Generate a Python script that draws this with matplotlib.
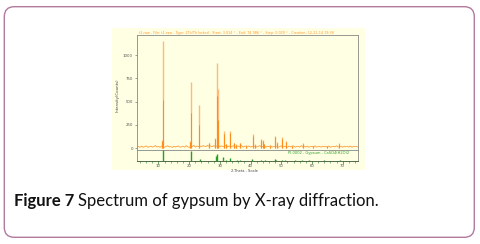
import matplotlib
matplotlib.use('Agg')
import matplotlib.pyplot as plt
from matplotlib.patches import FancyBboxPatch, Rectangle
import numpy as np

# ---- data ----
# baseline counts every 0.5 deg from 3 to 75 (hand read, approx)
base_x = np.arange(3.0, 75.01, 0.5)
base_y = [12, 18, 8, 22, 10, 15, 25, 9, 14, 20, 11, 17, 28, 12, 19, 9, 23, 14, 10, 18,
          26, 13, 16, 8, 21, 12, 17, 24, 10, 15, 19, 11, 27, 14, 9, 20, 16, 30, 12, 22,
          18, 25, 14, 28, 20, 16, 32, 18, 24, 15, 27, 19, 22, 30, 14, 25, 18, 21, 28, 13,
          24, 17, 20, 26, 12, 19, 23, 15, 29, 11, 18, 22, 14, 25, 10, 20, 16, 24, 12, 19,
          27, 13, 17, 22, 9, 21, 15, 26, 11, 18, 14, 23, 10, 17, 25, 12, 20, 15, 9, 22,
          13, 18, 24, 11, 16, 20, 10, 27, 14, 19, 12, 23, 9, 17, 21, 13, 25, 11, 16, 19,
          10, 22, 14, 18, 12, 24, 9, 16, 20, 13, 26, 11, 15, 19, 10, 21, 14, 17, 12, 23,
          9, 18, 15, 20, 11]

peak_pos = [11.0, 11.5, 20.3, 20.6, 23.3, 26.6, 28.5, 29.1, 29.5, 31.2, 32.1, 33.4, 34.6,
            35.4, 36.4, 38.6, 40.8, 41.5, 43.4, 43.9, 44.5, 46.3, 48.0, 48.5, 50.4, 51.4,
            53.4, 57.0, 60.5, 64.9, 68.8]
peak_light = [90, 1150, 80, 710, 465, 60, 110, 915, 640, 180, 45, 185, 60,
              40, 55, 30, 150, 40, 100, 90, 45, 30, 135, 70, 118, 72,
              30, 55, 25, 25, 55]
peak_dark = [80, 520, 70, 380, 250, 55, 95, 560, 300, 150, 40, 160, 55,
             35, 50, 28, 130, 35, 90, 80, 40, 28, 115, 60, 100, 65,
             28, 48, 22, 22, 48]

stick_pos = [11.6, 20.7, 23.4, 28.9, 29.1, 31.1, 32.1, 33.4, 35.5, 36.6, 40.6, 43.4,
             44.6, 47.9, 48.4, 50.3, 51.3, 54.4, 56.7, 59.0, 64.0, 69.0]
stick_h = [100, 88, 20, 45, 60, 40, 10, 25, 8, 10, 15, 12,
           8, 15, 8, 12, 8, 5, 8, 5, 5, 8]

yticks = [0, 250, 500, 750, 1000]
xticks = [10, 20, 30, 40, 50, 60, 70]

W, H = 481, 244
fig = plt.figure(figsize=(W / 100, H / 100), dpi=100)
fig.patch.set_facecolor('white')

# outer rounded frame (display pixels)
frame = FancyBboxPatch((4.3, 6.7), 470, 230.6, boxstyle='round,pad=0,rounding_size=10',
                       transform=None, facecolor='none', edgecolor='#B27A9C', linewidth=1.0,
                       zorder=-2)
fig.patches.append(frame)

# pale yellow background of the embedded chart
bg = Rectangle((112 / W, 1 - 170 / H), 253 / W, 142 / H, transform=fig.transFigure,
               facecolor='#FFFFE3', edgecolor='none', zorder=-1)
fig.patches.append(bg)

# main panel
ax = fig.add_axes([137 / W, 1 - 150 / H, 221 / W, 115 / H])
ax.set_facecolor('#FFFFE3')
ax.plot(base_x, base_y, color='#FF8C1A', lw=0.5)
ax.vlines(peak_pos, 0, peak_light, color='#FFB877', lw=1.0)
ax.vlines(peak_pos, 0, peak_dark, color='#FF8C1A', lw=0.7)
ax.set_xlim(3, 75)
ax.set_ylim(-20, 1215)
ax.set_yticks(yticks)
ax.set_yticklabels([str(v) for v in yticks])
ax.set_xticks([])
ax.tick_params(axis='y', labelsize=2.8, length=1.5, width=0.4, pad=1.5, colors='#555555')
for s in ax.spines.values():
    s.set_color('#888888')
    s.set_linewidth(0.6)

# stick panel with reference pattern
ax2 = fig.add_axes([137 / W, 1 - 161 / H, 221 / W, 11 / H])
ax2.set_facecolor('#FFFFE3')
ax2.vlines(stick_pos, 0, stick_h, color='#22A022', lw=1.0, zorder=3)
ax2.set_xlim(3, 75)
ax2.set_ylim(0, 100)
ax2.set_yticks([])
ax2.set_xticks(xticks)
ax2.set_xticks(np.arange(4, 75, 2), minor=True)
ax2.set_xticklabels([str(v) for v in xticks])
ax2.tick_params(axis='x', which='major', labelsize=2.8, length=2, width=0.5, pad=0.5,
                color='#2E7D2E', labelcolor='#555555')
ax2.tick_params(axis='x', which='minor', length=1.3, width=0.4, color='#2E7D2E')
for s in ax2.spines.values():
    s.set_color('#888888')
    s.set_linewidth(0.6)
ax2.spines['bottom'].set_color('#335533')
ax2.text(0.96, 0.72, 'PI-0002 - Gypsum - CaSO4(H2O)2', transform=ax2.transAxes,
         ha='right', va='center', fontsize=2.6, color='#2E9E2E')

# texts of the embedded chart
fig.text(139 / W, 1 - 34 / H,
         't1.raw - File: t1.raw - Type: 2Th/Th locked - Start: 3.014 \u00b0 - End: 74.986 \u00b0 - '
         'Step: 0.020 \u00b0 - Creation: 12-22-14 19:38',
         fontsize=2.45, color='#FF9933', va='baseline')
fig.text(118 / W, 1 - 95 / H, 'Intensity(Counts)', rotation=90, ha='center', va='center',
         fontsize=2.8, color='#444444')
fig.text(244 / W, 1 - 170.5 / H, '2-Theta - Scale', ha='center', va='center',
         fontsize=2.6, color='#444444')

# caption
renderer = fig.canvas.get_renderer()
cap_font = 'Lato'
t1 = fig.text(14 / W, 1 - 206 / H, 'Figure 7', fontsize=12, fontweight='bold',
              family=cap_font, color='#111111', va='baseline')
bb = t1.get_window_extent(renderer=renderer)
fig.text((bb.x1 + 4) / W, 1 - 206 / H, 'Spectrum of gypsum by X-ray diffraction.',
         fontsize=12, family=cap_font, color='#111111', va='baseline')

fig.savefig('out.png', dpi=100)
